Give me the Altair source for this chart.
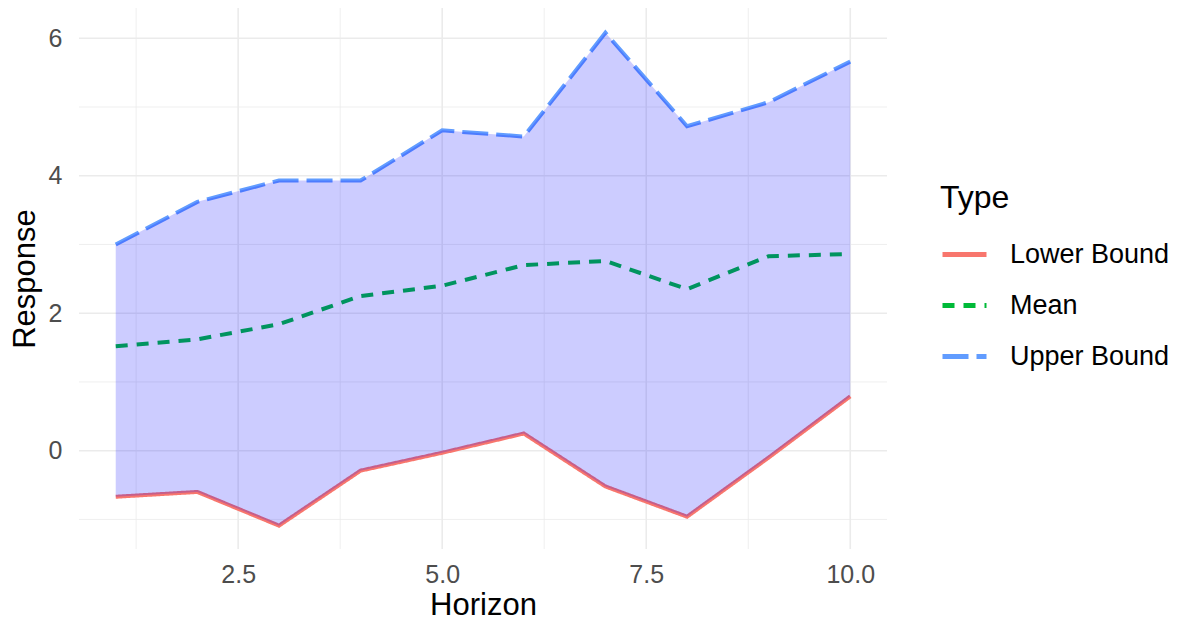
import altair as alt
import pandas as pd

horizon = list(range(1, 11))
lower = [-0.67, -0.60, -1.09, -0.29, -0.03, 0.25, -0.52, -0.96, -0.10, 0.79]
mean = [1.52, 1.62, 1.84, 2.25, 2.40, 2.70, 2.76, 2.35, 2.83, 2.86]
upper = [3.00, 3.62, 3.93, 3.93, 4.66, 4.57, 6.08, 4.72, 5.07, 5.66]

types = ["Lower Bound", "Mean", "Upper Bound"]
colors = ["#F8766D", "#00BA38", "#619CFF"]
dashes = [[1, 0], [12, 9], [26, 8]]

x_major = [2.5, 5.0, 7.5, 10.0]
x_minor = [1.25, 3.75, 6.25, 8.75]
y_major = [0, 2, 4, 6]
y_minor = [-1, 1, 3, 5]

wide = pd.DataFrame({"Horizon": horizon, "Lower": lower, "Mean": mean, "Upper": upper})
long = pd.DataFrame({
    "Horizon": horizon * 3,
    "Response": lower + mean + upper,
    "Type": [t for t in types for _ in horizon],
})

W, H = 808, 541
FONT = "Liberation Sans"

xs = alt.Scale(domain=[0.55, 10.45], nice=False, zero=False)
ys = alt.Scale(domain=[-1.43, 6.44], nice=False, zero=False)

x_axis = alt.Axis(
    title="Horizon", values=x_major, format=".1f", grid=False, domain=False, ticks=False,
    tickSize=0, labelPadding=13, labelFontSize=25, labelColor="#4D4D4D", labelFont=FONT,
    titleFont=FONT, titleFontSize=31, titleFontWeight="normal", titleColor="#000000",
    titleX=W / 2, titleY=65, titleBaseline="alphabetic", titleAlign="center",
)
y_axis = alt.Axis(
    title="Response", values=y_major, format="d", grid=False, domain=False, ticks=False,
    tickSize=0, labelPadding=17, labelFontSize=25, labelColor="#4D4D4D", labelFont=FONT,
    labelBaseline="middle",
    titleFont=FONT, titleFontSize=31, titleFontWeight="normal", titleColor="#000000",
    titleX=-54, titleY=H / 2, titleBaseline="middle", titleAlign="center", titleAngle=270,
)

grid_xmaj = alt.Chart(pd.DataFrame({"v": x_major})).mark_rule(color="#EBEBEB", strokeWidth=1.6).encode(
    x=alt.X("v:Q", scale=xs, axis=x_axis))
grid_xmin = alt.Chart(pd.DataFrame({"v": x_minor})).mark_rule(color="#EBEBEB", strokeWidth=0.8).encode(
    x=alt.X("v:Q", scale=xs, axis=x_axis))
grid_ymaj = alt.Chart(pd.DataFrame({"v": y_major})).mark_rule(color="#EBEBEB", strokeWidth=1.6).encode(
    y=alt.Y("v:Q", scale=ys, axis=y_axis))
grid_ymin = alt.Chart(pd.DataFrame({"v": y_minor})).mark_rule(color="#EBEBEB", strokeWidth=0.8).encode(
    y=alt.Y("v:Q", scale=ys, axis=y_axis))

lines = alt.Chart(long).mark_line(strokeWidth=4, strokeCap="butt").encode(
    x=alt.X("Horizon:Q", scale=xs, axis=x_axis),
    y=alt.Y("Response:Q", scale=ys, axis=y_axis),
    color=alt.Color("Type:N", scale=alt.Scale(domain=types, range=colors), title="Type"),
    strokeDash=alt.StrokeDash("Type:N", scale=alt.Scale(domain=types, range=dashes), title="Type"),
)

ribbon = alt.Chart(wide).mark_area(fill="#0000FF", fillOpacity=0.2).encode(
    x=alt.X("Horizon:Q", scale=xs, axis=x_axis),
    y=alt.Y("Lower:Q", scale=ys, axis=y_axis),
    y2="Upper:Q",
)

chart = alt.layer(grid_xmin, grid_ymin, grid_xmaj, grid_ymaj, lines, ribbon).properties(
    width=W, height=H,
    autosize=alt.AutoSizeParams(type="none"),
    padding={"left": 71, "top": 0, "right": 285, "bottom": 72},
).configure(font=FONT).configure_view(stroke=None).configure_legend(
    orient="none", legendX=861, legendY=175, padding=0,
    titleFont=FONT, titleFontSize=32, titleFontWeight="normal", titleColor="#000000", titlePadding=15,
    labelFont=FONT, labelFontSize=27, labelColor="#000000", labelOffset=21,
    symbolType="stroke", symbolSize=1936, symbolStrokeWidth=5, rowPadding=13,
)

chart.save("out.html", embed_options={"renderer": "svg", "actions": False})
